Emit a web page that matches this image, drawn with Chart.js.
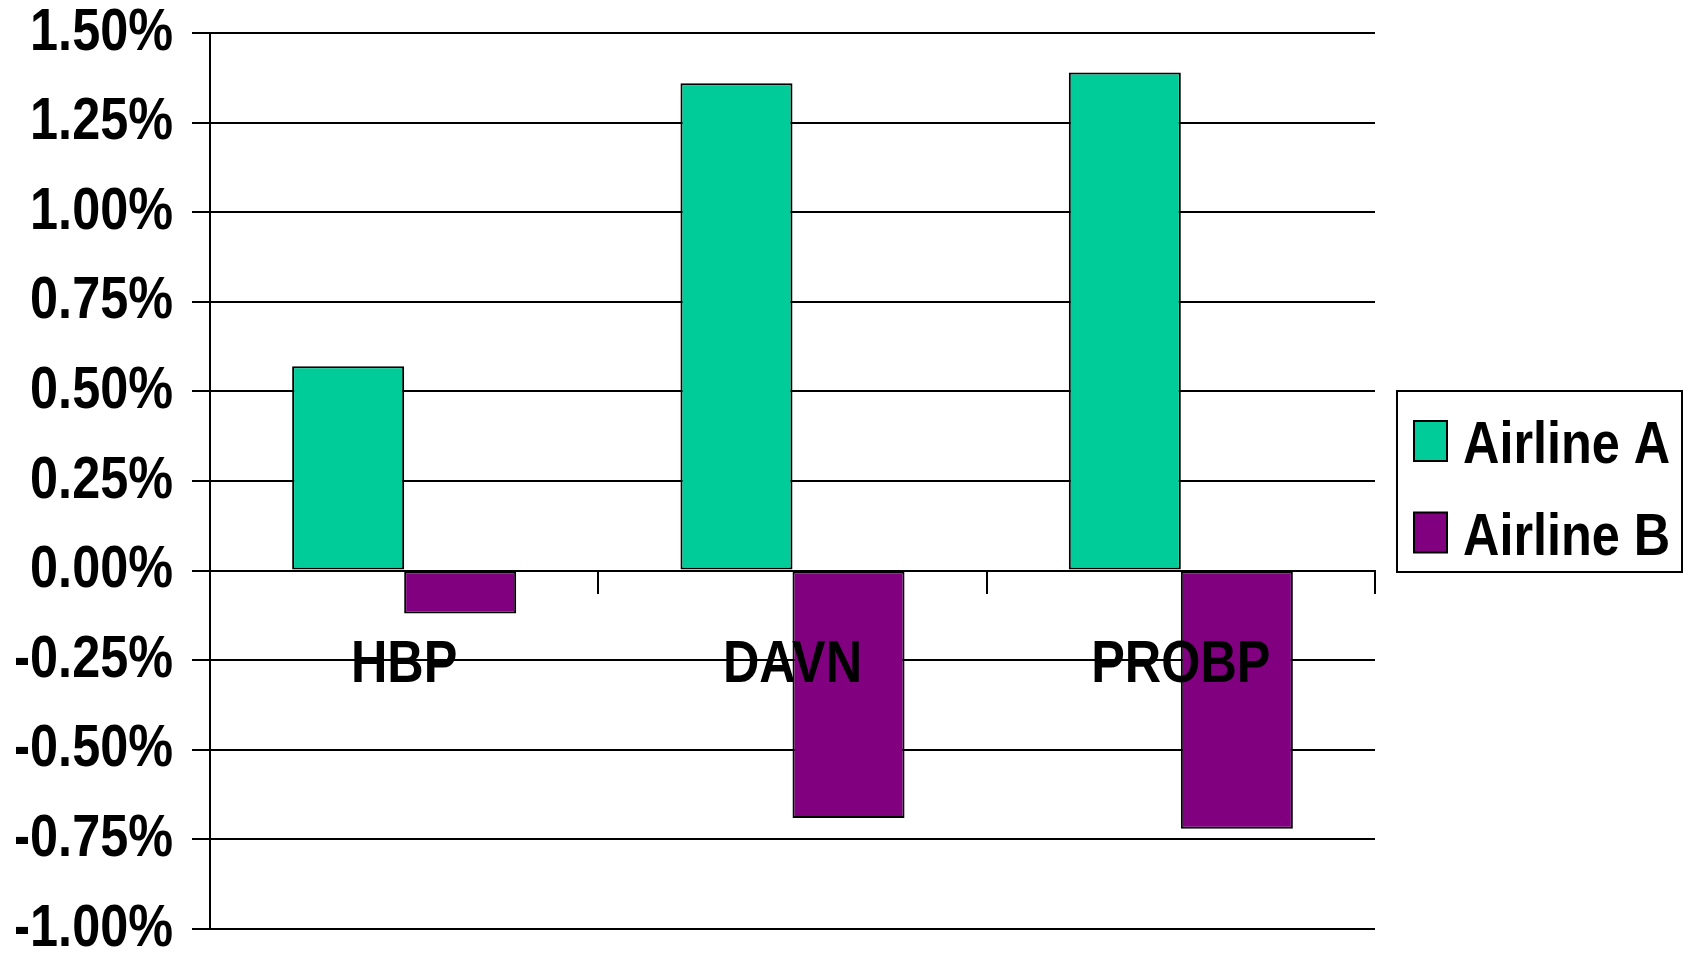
<!DOCTYPE html>
<html>
<head>
<meta charset="utf-8">
<script src="https://cdn.jsdelivr.net/npm/chart.js@4/dist/chart.umd.min.js"></script>
<style>
  html, body { margin: 0; padding: 0; background: #ffffff; }
  #wrap { width: 1684px; height: 953px; }
</style>
</head>
<body>
<div id="wrap"><canvas id="chart" width="1684" height="953"></canvas></div>
<script>
// Percent changes per measure for the two airlines
const categories = ['HBP', 'DAVN', 'PROBP'];
const seriesNames = ['Airline A', 'Airline B'];
const airlineA = [0.57, 1.36, 1.39];
const airlineB = [-0.12, -0.69, -0.72];
const seriesColors = ['#00CC99', '#800080'];

// Value axis range (percent)
const yMin = -1.0;
const yMax = 1.5;
const yStep = 0.25;

const FONT_FAMILY = '"Liberation Sans Narrow", "Arial Narrow", "Liberation Sans", Arial, sans-serif';
// Horizontal squeeze applied to all text so the bold sans reads as a narrow face
const NARROW = 0.84;

const canvas = document.getElementById('chart');
const ctx2d = canvas.getContext('2d');
const baseFillText = ctx2d.fillText.bind(ctx2d);
const baseMeasureText = ctx2d.measureText.bind(ctx2d);
ctx2d.fillText = function (text, x, y, maxWidth) {
  this.save();
  this.translate(x, y);
  this.scale(NARROW, 1);
  if (maxWidth === undefined || maxWidth === null) {
    baseFillText(text, 0, 0);
  } else {
    baseFillText(text, 0, 0, maxWidth / NARROW);
  }
  this.restore();
};
ctx2d.measureText = function (text) {
  const m = baseMeasureText(text);
  return {
    width: m.width * NARROW,
    actualBoundingBoxLeft: m.actualBoundingBoxLeft * NARROW,
    actualBoundingBoxRight: m.actualBoundingBoxRight * NARROW,
    actualBoundingBoxAscent: m.actualBoundingBoxAscent,
    actualBoundingBoxDescent: m.actualBoundingBoxDescent,
    fontBoundingBoxAscent: m.fontBoundingBoxAscent,
    fontBoundingBoxDescent: m.fontBoundingBoxDescent
  };
};

// Boxed legend to the right of the plot, drawn from the dataset labels/colours
const boxedLegend = {
  id: 'boxedLegend',
  afterDraw(chart) {
    const ctx = chart.ctx;
    const area = chart.chartArea;
    const left = area.right + 22;
    const top = 391;
    const width = 285;
    const height = 181;
    ctx.save();
    ctx.fillStyle = '#ffffff';
    ctx.fillRect(left, top, width, height);
    ctx.lineWidth = 2;
    ctx.strokeStyle = '#000000';
    ctx.strokeRect(left, top, width, height);
    ctx.font = 'bold 60px ' + FONT_FAMILY;
    ctx.textAlign = 'left';
    ctx.textBaseline = 'alphabetic';
    chart.data.datasets.forEach((ds, i) => {
      const rowMid = top + 50 + i * 91.5;
      const sx = left + 17;
      ctx.fillStyle = ds.backgroundColor;
      ctx.fillRect(sx, rowMid - 20, 33, 40);
      ctx.lineWidth = 2;
      ctx.strokeStyle = '#000000';
      ctx.strokeRect(sx, rowMid - 20, 33, 40);
      ctx.fillStyle = '#000000';
      ctx.fillText(ds.label, sx + 49, rowMid + 22);
    });
    ctx.restore();
  }
};

new Chart(canvas, {
  type: 'bar',
  data: {
    labels: categories,
    datasets: [
      {
        label: seriesNames[0],
        data: airlineA,
        backgroundColor: seriesColors[0],
        borderColor: '#000000',
        borderWidth: 2,
        borderSkipped: false
      },
      {
        label: seriesNames[1],
        data: airlineB,
        backgroundColor: seriesColors[1],
        borderColor: '#000000',
        borderWidth: 2,
        borderSkipped: false
      }
    ]
  },
  options: {
    responsive: false,
    animation: false,
    devicePixelRatio: 1,
    layout: { padding: { left: 16, right: 309, top: 33, bottom: 24 } },
    datasets: {
      bar: { categoryPercentage: 0.577, barPercentage: 1.0 }
    },
    plugins: {
      legend: { display: false },
      tooltip: { enabled: false },
      title: { display: false }
    },
    scales: {
      x: {
        position: { y: 0 },
        offset: true,
        grid: {
          offset: true,
          drawOnChartArea: false,
          drawTicks: true,
          tickLength: 22,
          color: '#000000',
          lineWidth: 2
        },
        border: { display: true, color: '#000000', width: 2 },
        ticks: {
          z: 1,
          color: '#000000',
          padding: 37,
          maxRotation: 0,
          autoSkip: false,
          font: { family: FONT_FAMILY, size: 60, weight: 'bold', lineHeight: 1.2 }
        }
      },
      y: {
        min: yMin,
        max: yMax,
        afterFit: (scale) => { scale.width = 194; },
        grid: {
          color: '#000000',
          lineWidth: 2,
          drawTicks: true,
          tickLength: 18
        },
        border: { display: true, color: '#000000', width: 2 },
        ticks: {
          stepSize: yStep,
          autoSkip: false,
          color: '#000000',
          padding: 19,
          font: { family: FONT_FAMILY, size: 60, weight: 'bold', lineHeight: 0.1 },
          callback: (v) => Number(v).toFixed(2) + '%'
        }
      }
    }
  },
  plugins: [boxedLegend]
});
</script>
</body>
</html>
